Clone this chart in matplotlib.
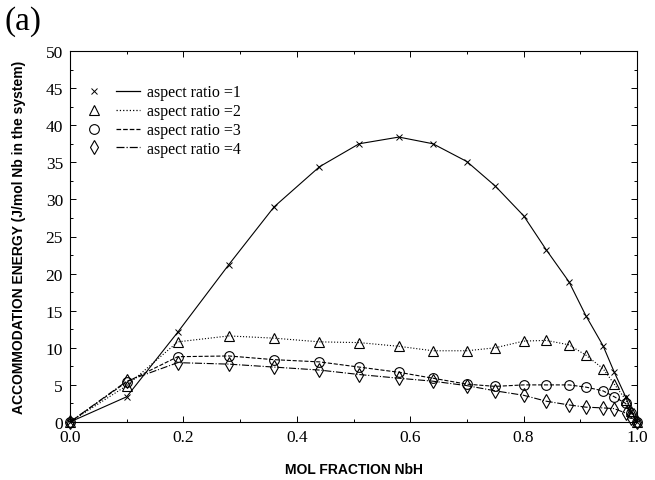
import matplotlib
matplotlib.use("Agg")
import matplotlib.pyplot as plt
from matplotlib.lines import Line2D
from matplotlib.legend_handler import HandlerTuple
from matplotlib.ticker import MultipleLocator

x = [0.0, 0.10, 0.19, 0.28, 0.36, 0.44, 0.51, 0.58, 0.64, 0.70, 0.75,
     0.80, 0.84, 0.88, 0.91, 0.94, 0.96, 0.98, 0.99, 1.0]
ar1 = [0.0, 3.4, 12.1, 21.2, 29.0, 34.4, 37.5, 38.4, 37.5, 35.1, 31.8,
       27.8, 23.2, 18.9, 14.3, 10.3, 6.7, 3.4, 1.5, 0.0]
ar2 = [0.0, 4.9, 10.8, 11.6, 11.3, 10.8, 10.7, 10.2, 9.6, 9.6, 10.0,
       10.9, 11.0, 10.4, 9.0, 7.2, 5.1, 3.0, 1.5, 0.0]
ar3 = [0.0, 5.4, 8.8, 8.9, 8.4, 8.1, 7.4, 6.7, 5.9, 5.1, 4.8,
       5.0, 5.0, 5.0, 4.7, 4.2, 3.4, 2.5, 1.2, 0.0]
ar4 = [0.0, 5.5, 8.0, 7.8, 7.4, 7.0, 6.4, 5.9, 5.5, 4.9, 4.2,
       3.6, 2.8, 2.3, 2.0, 1.9, 1.8, 1.2, 0.6, 0.0]
labels = ["aspect ratio =1", "aspect ratio =2", "aspect ratio =3", "aspect ratio =4"]

serif = "Liberation Serif"
sans = "Liberation Sans"

fig = plt.figure(figsize=(6.55, 4.81), dpi=100)
ax = fig.add_axes([70/655, 1-423/481, 567/655, 371/481])

styles = [
    dict(marker="x", linestyle="-", ms=4, mew=0.7),
    dict(marker="^", linestyle=":", ms=6.5, mew=0.8),
    dict(marker="o", linestyle="--", ms=7, mew=0.8),
    dict(marker="d", linestyle="-.", ms=7.5, mew=0.8),
]
series = [ar1, ar2, ar3, ar4]
handles = []
for y, st in zip(series, styles):
    ax.plot(x, y, color="black", lw=0.8, linestyle=st["linestyle"],
            marker=st["marker"], ms=st["ms"], mew=st["mew"],
            mfc="none", mec="black", clip_on=False, zorder=3)
    mk = Line2D([], [], color="black", linestyle="none", marker=st["marker"],
                ms=st["ms"], mew=st["mew"], mfc="none")
    ln = Line2D([], [], color="black", linestyle=st["linestyle"], lw=0.9)
    handles.append((mk, ln))

leg = ax.legend(handles, labels, handler_map={tuple: HandlerTuple(ndivide=None, pad=0.6)},
                loc="upper left", bbox_to_anchor=(0.022, 0.91), frameon=False,
                borderpad=0, borderaxespad=0,
                prop={"family": serif, "size": 11.5}, handlelength=3.6,
                handletextpad=0.45, labelspacing=0.18)

ax.set_xlim(0, 1.0)
ax.set_ylim(0, 50)
ax.xaxis.set_major_locator(MultipleLocator(0.2))
ax.xaxis.set_minor_locator(MultipleLocator(0.1))
ax.yaxis.set_major_locator(MultipleLocator(5))
ax.yaxis.set_minor_locator(MultipleLocator(2.5))
ax.tick_params(which="both", direction="in", top=True, right=True, width=0.7)
ax.tick_params(which="major", length=4, labelsize=12.5, pad=5)
ax.tick_params(which="minor", length=2)
ax.xaxis.set_major_formatter(plt.FuncFormatter(lambda v, p: f"{v:.1f}"))
ax.yaxis.set_major_formatter(plt.FuncFormatter(lambda v, p: f"{v:.0f}"))
for lbl in ax.get_xticklabels() + ax.get_yticklabels():
    lbl.set_family(serif)
for sp in ax.spines.values():
    sp.set_linewidth(0.8)

ax.set_xlabel("MOL FRACTION NbH", fontfamily=sans, fontweight="bold", fontsize=10, labelpad=12)
ax.set_ylabel("ACCOMMODATION ENERGY (J/mol Nb in the system)", fontfamily=sans,
              fontweight="bold", fontsize=10, labelpad=14)

fig.text(5/655, 1-22/481, "(a)", fontfamily=serif, fontsize=24, va="center", ha="left")

fig.savefig("out.png", dpi=100)
